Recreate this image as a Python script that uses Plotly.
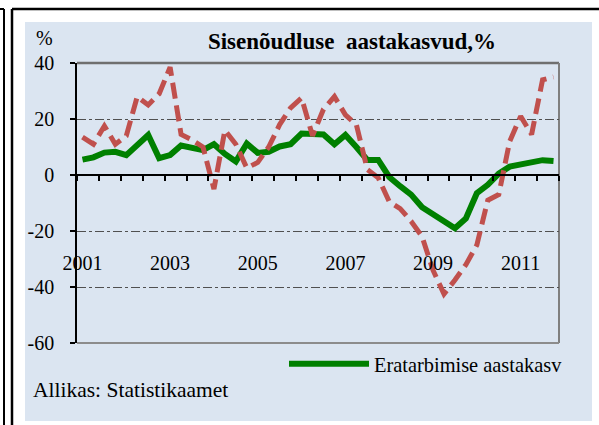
import plotly.graph_objects as go

W, H = 599, 425

# ---- data (quarterly, 2001Q1 .. 2011Q4) ----
years = list(range(2001, 2012))
quarters = [f"{y}Q{q}" for y in years for q in range(1, 5)]

eratarbimine = [5.5, 6.3, 8.0, 8.3, 7.1, 10.5, 14.3, 6.0,
                7.1, 10.5, 9.8, 8.9, 11.0, 7.5, 4.8, 11.2,
                7.9, 8.3, 10.2, 11.0, 14.8, 14.6, 14.5, 11.0,
                14.3, 10.0, 5.4, 5.4, -0.7, -4.0, -7.0, -11.5,
                -14.0, -16.5, -19.0, -15.5, -6.5, -3.5, 0.5, 3.0,
                3.8, 4.3, 5.3, 5.0]
sisenoudlus = [13.5, 11.0, 17.5, 11.0, 14.0, 28.0, 25.0, 29.0,
               38.5, 14.5, 12.5, 10.0, -5.0, 16.0, 11.0, 2.5,
               4.5, 10.0, 18.0, 24.0, 27.5, 14.0, 23.5, 28.0,
               21.5, 18.0, 2.0, -1.0, -9.5, -12.0, -16.5, -22.0,
               -34.0, -42.5, -37.5, -32.0, -25.0, -9.0, -7.0, 12.0,
               21.0, 14.5, 34.0, 35.0]

y_ticks = [-60, -40, -20, 0, 20, 40]
y_ticktext = ["-60", "-40", "-20", "0", "20", "40"]
x_label_years = ["2001", "2003", "2005", "2007", "2009", "2011"]

title_text = "Sisenõudluse\u00a0 aastakasvud,%"
legend_name = "Eratarbimise aastakasv"
source_text = "Allikas: Statistikaamet"

# ---- layout geometry (pixels -> paper) ----
def px(x):
    return x / W

def py(y):
    return 1 - y / H

PL, PR, PT, PB = 77, 559, 63, 343
idx = list(range(len(quarters)))
label_idx = [quarters.index(f"{y}Q1") for y in x_label_years]

FONT = "Liberation Serif, DejaVu Serif, serif"
BLUE = "#DBE5F1"

fig = go.Figure()
fig.add_trace(go.Scatter(
    x=idx, y=eratarbimine, name=legend_name, mode="lines",
    line=dict(color="#008000", width=6),
    customdata=quarters, hovertemplate="%{customdata}: %{y}<extra></extra>",
))
fig.add_trace(go.Scatter(
    x=idx, y=sisenoudlus, name="Sisenõudlus", mode="lines", showlegend=False,
    line=dict(color="#C0504D", width=5, dash="16px,7px"),
    customdata=quarters, hovertemplate="%{customdata}: %{y}<extra></extra>",
))
# carrier for the year-label axis
fig.add_trace(go.Scatter(x=[label_idx[0]], y=[None], xaxis="x2", showlegend=False,
                         hoverinfo="skip", mode="lines"))

shapes = [
    # light blue panel
    dict(type="rect", xref="paper", yref="paper", x0=px(25), x1=px(592), y0=py(421), y1=py(22),
         fillcolor=BLUE, line=dict(width=0), layer="below"),
    # outer frame lines
    dict(type="line", xref="paper", yref="paper", x0=px(12), x1=px(599), y0=py(9), y1=py(9),
         line=dict(color="black", width=2.5)),
    dict(type="line", xref="paper", yref="paper", x0=px(12), x1=px(12), y0=py(9), y1=py(425),
         line=dict(color="black", width=2.5)),
    dict(type="line", xref="paper", yref="paper", x0=px(0), x1=px(4), y0=py(9), y1=py(9),
         line=dict(color="black", width=2)),
    dict(type="line", xref="paper", yref="paper", x0=px(4), x1=px(4), y0=py(9), y1=py(425),
         line=dict(color="black", width=2)),
    # plot area border (top, right, bottom)
    dict(type="line", xref="paper", yref="paper", x0=px(PL), x1=px(PR), y0=py(PT), y1=py(PT),
         line=dict(color="#6f6f6f", width=2.5), layer="below"),
    dict(type="line", xref="paper", yref="paper", x0=px(PR), x1=px(PR), y0=py(PT), y1=py(PB),
         line=dict(color="#7f7f7f", width=2), layer="below"),
    dict(type="line", xref="paper", yref="paper", x0=px(PL), x1=px(PR), y0=py(PB), y1=py(PB),
         line=dict(color="#8c8c8c", width=2), layer="below"),
]

annotations = [
    dict(text="%", xref="paper", yref="paper", x=px(44), y=py(38), showarrow=False,
         xanchor="center", yanchor="middle", font=dict(family=FONT, size=20, color="black")),
    dict(text=source_text, xref="paper", yref="paper", x=px(31), y=py(390), showarrow=False,
         xanchor="left", yanchor="middle", font=dict(family=FONT, size=21.5, color="black")),
]

fig.update_layout(
    width=W, height=H,
    margin=dict(l=0, r=0, t=0, b=0, autoexpand=False),
    paper_bgcolor="white", plot_bgcolor=BLUE,
    font=dict(family=FONT, size=20, color="black"),
    title=dict(text=title_text, x=px(352), xanchor="center", y=py(41), yanchor="middle",
               xref="paper", yref="paper",
               font=dict(family=FONT, size=23, color="black", weight="bold")),
    shapes=shapes, annotations=annotations,
    showlegend=True,
    legend=dict(x=px(284), xanchor="left", y=py(364), yanchor="middle",
                bgcolor="rgba(0,0,0,0)", borderwidth=0, itemwidth=80,
                font=dict(family=FONT, size=20.4, color="black")),
    xaxis=dict(domain=[px(PL), px(PR)], range=[-0.5, len(quarters) - 0.5],
               anchor="free", position=py(175),
               tickmode="linear", tick0=-0.5, dtick=2,
               ticks="outside", ticklen=5, tickwidth=1.5, tickcolor="black",
               showticklabels=False, showgrid=False, zeroline=False,
               showline=True, linecolor="black", linewidth=1.5, automargin=False),
    xaxis2=dict(overlaying="x", matches="x", anchor="free", position=py(249),
                tickmode="array", tickvals=label_idx, ticktext=x_label_years,
                ticks="", showline=False, showgrid=False, zeroline=False,
                tickfont=dict(family=FONT, size=20, color="black"), automargin=False),
    yaxis=dict(domain=[py(PB), py(PT)], range=[-60, 40],
               tickmode="array", tickvals=y_ticks, ticktext=y_ticktext,
               ticks="outside", ticklen=5, tickwidth=1.5, tickcolor="black",
               ticklabelstandoff=12,
               tickfont=dict(family=FONT, size=20, color="black"),
               showgrid=True, gridcolor="#505050", gridwidth=1, griddash="9px,3px,3px,3px",
               zeroline=False, showline=True, linecolor="black", linewidth=1.5,
               automargin=False),
)

fig.write_html("out.html", config={"displayModeBar": False},
               post_script="document.body.style.margin='0';")
